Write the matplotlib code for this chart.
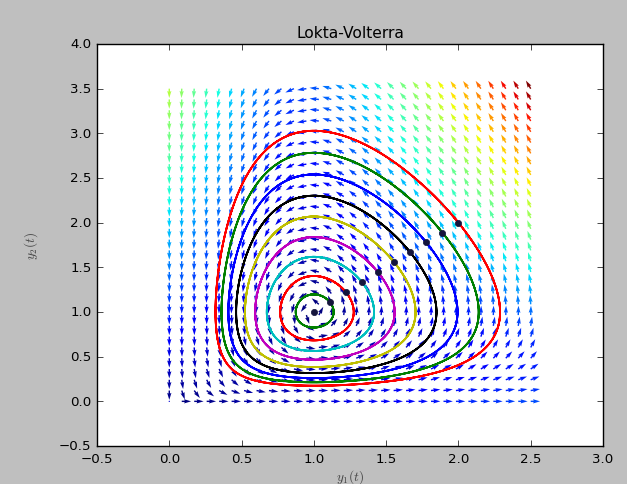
import numpy as np
import matplotlib
matplotlib.use("Agg")
import matplotlib.pyplot as plt

plt.style.use('classic')

# model parameters (equilibrium at (1, 1))
alpha, beta, gamma, delta = 1.0, 1.0, 2.0, 2.0
# initial conditions along the diagonal
start_y1 = [1.0, 1.111, 1.222, 1.333, 1.444, 1.556, 1.667, 1.778, 1.889, 2.0]
start_y2 = [1.0, 1.111, 1.222, 1.333, 1.444, 1.556, 1.667, 1.778, 1.889, 2.0]
line_colors = ['b', 'g', 'r', 'c', 'm', 'y', 'k', 'b', 'g', 'r']
grid_x = np.linspace(0, 2.5, 30)
grid_y = np.linspace(0, 3.5, 30)
x_ticks = [-0.5, 0.0, 0.5, 1.0, 1.5, 2.0, 2.5, 3.0]
y_ticks = [-0.5, 0.0, 0.5, 1.0, 1.5, 2.0, 2.5, 3.0, 3.5, 4.0]


def f(Y):
    y1, y2 = Y
    return np.array([alpha * y1 - beta * y1 * y2, -gamma * y2 + delta * y1 * y2])


def integrate(y0, T=15.0, dt=0.002):
    n = int(T / dt)
    out = np.empty((n + 1, 2))
    y = np.array(y0, dtype=float)
    out[0] = y
    for i in range(n):
        k1 = f(y)
        k2 = f(y + 0.5 * dt * k1)
        k3 = f(y + 0.5 * dt * k2)
        k4 = f(y + dt * k3)
        y = y + dt / 6.0 * (k1 + 2 * k2 + 2 * k3 + k4)
        out[i + 1] = y
    return out


fig = plt.figure(figsize=(6.27, 4.85), dpi=100, facecolor='#bfbfbf')
ax = fig.add_axes([97 / 627, 38 / 485, 506 / 627, 402 / 485])

for a, b, c in zip(start_y1, start_y2, line_colors):
    tr = integrate([a, b])
    ax.plot(tr[:, 0], tr[:, 1], color=c, lw=1.3)
    ax.plot([a], [b], 'o', color='#14143c', markersize=4.5, markeredgecolor='#14143c')

X1, Y1 = np.meshgrid(grid_x, grid_y)
DX, DY = f([X1, Y1])
M = np.hypot(DX, DY)
M[M == 0] = 1.0
DX = DX / M
DY = DY / M
ax.quiver(X1, Y1, DX, DY, M, cmap=plt.cm.jet, width=0.0028)

ax.set_xlim(-0.5, 3.0)
ax.set_ylim(-0.5, 4.0)
ax.set_xticks(x_ticks)
ax.set_yticks(y_ticks)
ax.tick_params(labelsize=9.6)
ax.set_title('Lokta-Volterra', fontsize=11.2)
ax.set_xlabel('$y_1(t)$', fontsize=9.6, color='#444444', labelpad=2)
ax.set_ylabel('$y_2(t)$', fontsize=9.6, color='#444444', labelpad=14)

fig.savefig('out.png', dpi=100, facecolor=fig.get_facecolor())
